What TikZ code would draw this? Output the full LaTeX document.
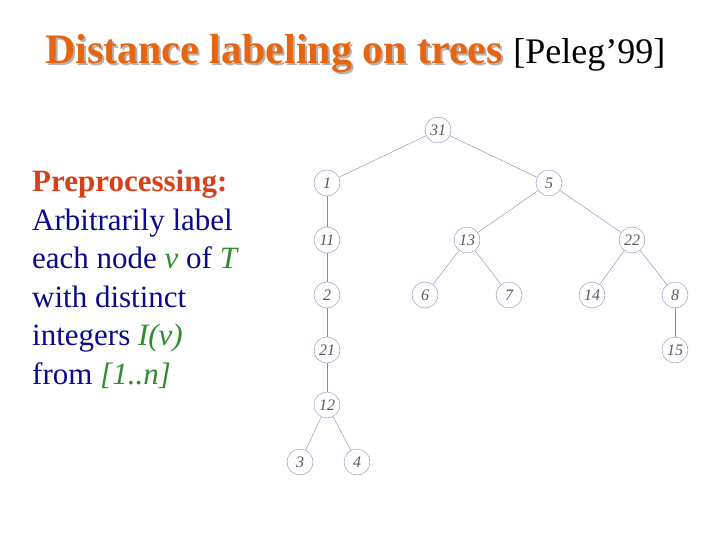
\documentclass[tikz,border=0pt]{standalone}
\usepackage{fontspec}
\setmainfont{Liberation Serif}
\definecolor{titleorange}{HTML}{E8650F}
\definecolor{bodyblue}{HTML}{0A0A8C}
\definecolor{preored}{HTML}{D8401A}
\definecolor{mathgreen}{HTML}{2E8B2E}
\definecolor{treeline}{HTML}{8A84B8}
\tikzset{
    vert/.style={circle, draw=treeline, thin, minimum size=26pt, inner sep=0pt,
        font=\itshape\fontsize{16}{16}\selectfont, text=gray!70!black},
    edge/.style={draw=treeline, thin}
}
\begin{document}
\begin{tikzpicture}[x=1pt,y=-1pt]
    \useasboundingbox (0,0) rectangle (720,540);
    % title
    \node[anchor=base west, text=gray!60, inner sep=0pt, font=\bfseries\fontsize{42}{42}\selectfont] at (47,66) {Distance labeling on trees};
    \node[anchor=base west, text=titleorange, inner sep=0pt, font=\bfseries\fontsize{42}{42}\selectfont] (title) at (45,64) {Distance labeling on trees};
    \node[anchor=base west, inner sep=0pt, font=\fontsize{36}{36}\selectfont] (cite) at ([xshift=10pt]title.base east) {[Peleg'99]};
    % left text
    \node[anchor=north west, align=left, text=bodyblue, font=\fontsize{31}{38.5}\selectfont, inner sep=0pt] (desc) at (32,170)
        {{\color{preored}\bfseries Preprocessing:}\\
         Arbitrarily label\\
         each node {\color{mathgreen}\itshape v} of {\color{mathgreen}\itshape T}\\
         with distinct\\
         integers {\color{mathgreen}\itshape I(v)}\\
         from {\color{mathgreen}\itshape [1..n]}};
    % tree
    \node[vert] (n31) at (438,130) {31};
    \node[vert] (n1) at (327,183) {1};
    \node[vert] (n5) at (549,183) {5};
    \node[vert] (n11) at (327,240) {11};
    \node[vert] (n2) at (327,295) {2};
    \node[vert] (n21) at (327,350) {21};
    \node[vert] (n12) at (327,405) {12};
    \node[vert] (n3) at (300,462) {3};
    \node[vert] (n4) at (357,462) {4};
    \node[vert] (n13) at (467,240) {13};
    \node[vert] (n22) at (632,240) {22};
    \node[vert] (n6) at (425,295) {6};
    \node[vert] (n7) at (509,295) {7};
    \node[vert] (n14) at (592,295) {14};
    \node[vert] (n8) at (675,295) {8};
    \node[vert] (n15) at (675,350) {15};
    \foreach \a/\b in {n31/n1,n31/n5,n1/n11,n11/n2,n2/n21,n21/n12,n12/n3,n12/n4,
                       n5/n13,n5/n22,n13/n6,n13/n7,n22/n14,n22/n8,n8/n15}
        \draw[edge] (\a) -- (\b);
\end{tikzpicture}
\end{document}
